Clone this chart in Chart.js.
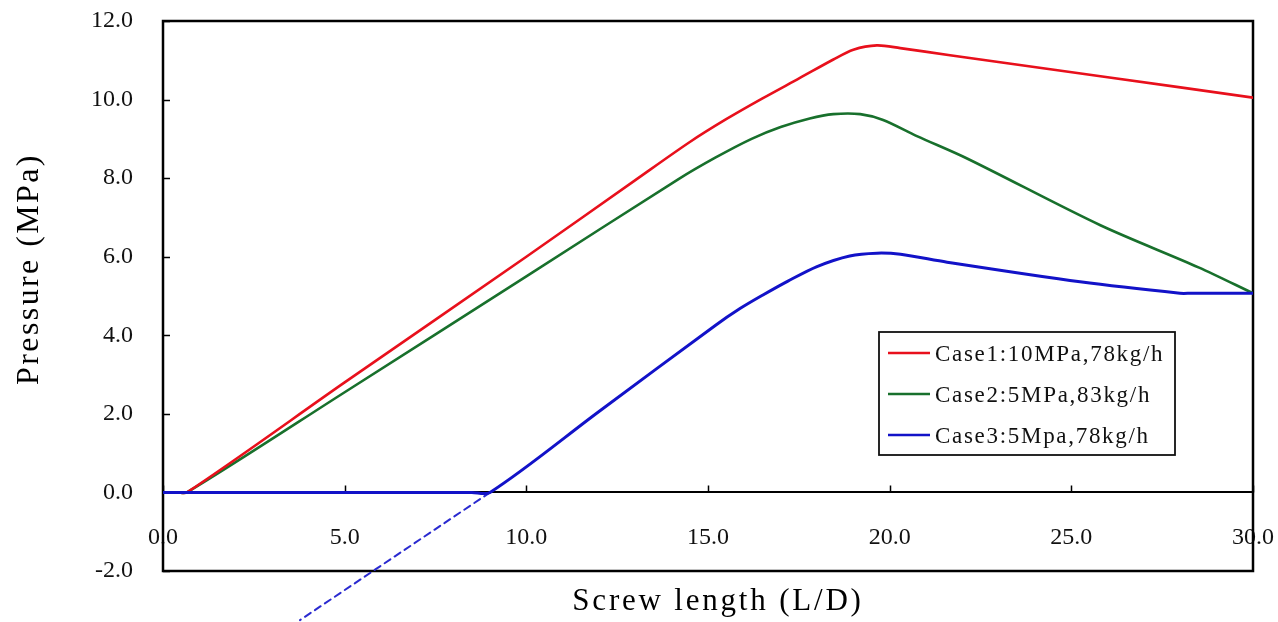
<!DOCTYPE html>
<html>
<head>
<meta charset="utf-8">
<script src="https://cdn.jsdelivr.net/npm/chart.js@4/dist/chart.umd.min.js"></script>
<style>
  html, body { margin: 0; padding: 0; background: #fff; }
  #wrap { width: 1278px; height: 622px; position: relative; }
</style>
</head>
<body>
<div id="wrap"><canvas id="c" width="1278" height="622"></canvas></div>
<script>
// Pressure profile along the screw, three operating cases
const case1X = [0, 0.4, 0.66, 5, 10, 13, 14.5, 15.5, 16.5, 17.53, 18.45, 19.0, 19.65, 20.29, 21.66, 23.04, 26, 30];
const case1Y = [0, 0, 0, 2.8, 6.0, 7.95, 8.92, 9.5, 10.03, 10.55, 11.02, 11.27, 11.38, 11.31, 11.13, 10.95, 10.57, 10.05];

const case2X = [0, 0.4, 0.66, 5, 10, 14.2, 15.2, 16.2, 17.0, 17.8, 18.45, 19.19, 19.82, 20.75, 22.13, 25.8, 28.5, 30];
const case2Y = [0, 0, 0, 2.55, 5.5, 7.98, 8.52, 9.0, 9.3, 9.52, 9.63, 9.63, 9.48, 9.07, 8.5, 6.8, 5.73, 5.07];

const case3X = [0, 8.5, 9.0, 12, 15.2, 15.88, 16.5, 17.2, 18.0, 18.9, 19.65, 20.3, 21.58, 25.24, 27.99, 28.3, 30];
const case3Y = [0, 0, 0, 2.06, 4.25, 4.68, 5.02, 5.38, 5.75, 6.02, 6.09, 6.06, 5.86, 5.36, 5.07, 5.07, 5.07];

// extension of the Case3 pressure rise back below zero
const case3ExtX = [9.0, 3.77];
const case3ExtY = [0, -3.25];

const seriesLabels = ['Case1:10MPa,78kg/h', 'Case2:5MPa,83kg/h', 'Case3:5Mpa,78kg/h'];
const xTicks = [0, 5, 10, 15, 20, 25, 30];
const yTicks = [-2, 0, 2, 4, 6, 8, 10, 12];

const xTitle = 'Screw length (L/D)';
const yTitle = 'Pressure (MPa)';

const toPoints = (xs, ys) => xs.map((x, i) => ({ x: x, y: ys[i] }));

const SERIF = '"Liberation Serif", "Times New Roman", serif';

// plot frame plus inward tick marks
const framePlugin = {
  id: 'frame',
  beforeDatasetsDraw(chart) {
    const { ctx, chartArea: a, scales } = chart;
    ctx.save();
    ctx.strokeStyle = '#000';
    ctx.lineWidth = 2.5;
    ctx.strokeRect(a.left, a.top, a.right - a.left, a.bottom - a.top);
    ctx.lineWidth = 1.5;
    ctx.beginPath();
    yTicks.forEach(v => {
      const py = Math.round(scales.y.getPixelForValue(v)) + 0.5;
      ctx.moveTo(a.left, py);
      ctx.lineTo(a.left + 7, py);
    });
    const y0 = scales.y.getPixelForValue(0);
    xTicks.forEach(v => {
      const px = Math.round(scales.x.getPixelForValue(v)) + 0.5;
      ctx.moveTo(px, y0);
      ctx.lineTo(px, y0 - 7);
    });
    ctx.stroke();
    ctx.restore();
  }
};

// axis titles
const titlesPlugin = {
  id: 'titles',
  afterDraw(chart) {
    const { ctx, chartArea: a } = chart;
    ctx.save();
    ctx.fillStyle = '#000';
    ctx.textAlign = 'center';
    ctx.textBaseline = 'middle';
    ctx.font = '31px ' + SERIF;
    ctx.letterSpacing = '2.8px';
    ctx.fillText(xTitle, (a.left + a.right) / 2 + 10, 602);
    ctx.translate(30, 269);
    ctx.rotate(-Math.PI / 2);
    ctx.font = '32px ' + SERIF;
    ctx.letterSpacing = '2.4px';
    ctx.fillText(yTitle, 0, 0);
    ctx.restore();
  }
};

// boxed legend inside the plot
const legendPlugin = {
  id: 'boxLegend',
  afterDraw(chart) {
    const { ctx, chartArea: a } = chart;
    const left = a.right - 374, top = a.top + 311, w = 296, h = 123;
    ctx.save();
    ctx.fillStyle = '#fff';
    ctx.fillRect(left, top, w, h);
    ctx.strokeStyle = '#111';
    ctx.lineWidth = 1.8;
    ctx.strokeRect(left, top, w, h);
    ctx.font = '23px ' + SERIF;
    ctx.letterSpacing = '1.7px';
    ctx.textBaseline = 'middle';
    ctx.textAlign = 'left';
    seriesLabels.forEach((lab, i) => {
      const ds = chart.data.datasets[i];
      const ry = top + 21 + i * 41;
      ctx.strokeStyle = ds.borderColor;
      ctx.lineWidth = 2.5;
      ctx.beginPath();
      ctx.moveTo(left + 9, ry);
      ctx.lineTo(left + 51, ry);
      ctx.stroke();
      ctx.fillStyle = '#111';
      ctx.fillText(lab, left + 56, ry + 2);
    });
    ctx.restore();
  }
};

new Chart(document.getElementById('c'), {
  type: 'line',
  data: {
    datasets: [
      { label: seriesLabels[0], data: toPoints(case1X, case1Y), borderColor: '#e8101c', borderWidth: 2.6, order: 1 },
      { label: seriesLabels[1], data: toPoints(case2X, case2Y), borderColor: '#18702c', borderWidth: 2.6, order: 2 },
      { label: seriesLabels[2], data: toPoints(case3X, case3Y), borderColor: '#1212c8', borderWidth: 3, order: 0 },
      { label: 'ext', data: toPoints(case3ExtX, case3ExtY), borderColor: '#2a2ad0', borderWidth: 2, borderDash: [7, 5], order: 3, clip: false, tension: 0 }
    ]
  },
  options: {
    responsive: false,
    animation: false,
    devicePixelRatio: 1,
    elements: {
      point: { radius: 0, hoverRadius: 0 },
      line: { tension: 0.3, fill: false, borderJoinStyle: 'round', borderCapStyle: 'round' }
    },
    layout: { padding: { left: 0, right: 25, top: 21, bottom: 51 } },
    plugins: { legend: { display: false }, tooltip: { enabled: false } },
    scales: {
      x: {
        type: 'linear',
        position: { y: 0 },
        min: 0, max: 30,
        afterBuildTicks: s => { s.ticks = xTicks.map(v => ({ value: v })); },
        ticks: {
          padding: 0,
          maxRotation: 0,
          autoSkip: false,
          color: '#111',
          font: { family: SERIF, size: 24 },
          callback: v => Number(v).toFixed(1)
        },
        grid: { display: false, drawTicks: true, tickLength: 31 },
        border: { display: true, color: '#000', width: 2 }
      },
      y: {
        type: 'linear',
        position: 'left',
        min: -2, max: 12,
        afterFit: s => { s.width = 163; },
        afterBuildTicks: s => { s.ticks = yTicks.map(v => ({ value: v })); },
        ticks: {
          padding: 4,
          color: '#111',
          font: { family: SERIF, size: 24 },
          callback: v => Number(v).toFixed(1)
        },
        grid: { display: false, drawTicks: true, tickLength: 26 },
        border: { display: false }
      }
    }
  },
  plugins: [framePlugin, legendPlugin, titlesPlugin]
});
</script>
</body>
</html>
